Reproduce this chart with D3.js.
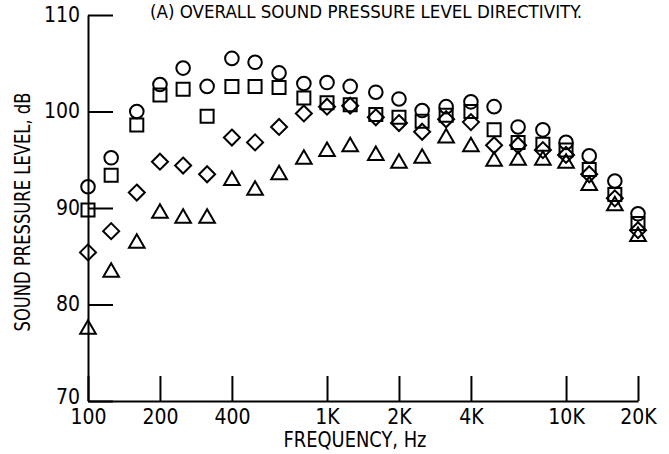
<!DOCTYPE html>
<html>
<head>
<meta charset="utf-8">
<script src="https://cdn.jsdelivr.net/npm/d3@7"></script>
<style>
  html, body { margin: 0; padding: 0; background: #fff; }
  svg text { font-family: "Liberation Sans Narrow", "DejaVu Sans Condensed", "Roboto Condensed", sans-serif; fill: #000; }
</style>
</head>
<body>
<svg id="chart" width="669" height="454"></svg>
<script>
// One-third-octave band centre frequencies, Hz
const bands = [100, 125, 160, 200, 250, 315, 400, 500, 630, 800, 1000, 1250,
  1600, 2000, 2500, 3150, 4000, 5000, 6300, 8000, 10000, 12500, 16000, 20000];

// Sound pressure level per band, dB, one array per measurement position
const circleSPL = [92.2, 95.2, 100.0, 102.8, 104.5, 102.6, 105.5, 105.1, 104.0, 102.9, 103.0, 102.6,
  102.0, 101.3, 100.1, 100.5, 101.0, 100.5, 98.4, 98.1, 96.8, 95.4, 92.8, 89.4];
const squareSPL = [89.8, 93.4, 98.6, 101.7, 102.3, 99.5, 102.6, 102.6, 102.5, 101.4, 100.9, 100.7,
  99.7, 99.4, 99.0, 99.6, 100.0, 98.1, 96.8, 96.6, 96.0, 94.0, 91.4, 88.4];
const diamondSPL = [85.4, 87.6, 91.6, 94.8, 94.4, 93.5, 97.3, 96.8, 98.4, 99.8, 100.5, 100.6,
  99.4, 98.8, 97.9, 99.2, 98.9, 96.5, 96.5, 96.0, 95.5, 93.5, 91.0, 87.7];
const triangleSPL = [77.6, 83.5, 86.5, 89.6, 89.1, 89.1, 93.0, 92.0, 93.6, 95.2, 96.0, 96.5,
  95.6, 94.8, 95.3, 97.4, 96.5, 95.0, 95.1, 95.1, 94.8, 92.5, 90.4, 87.2];

// Axis ticks
const xTicks = [100, 200, 400, 1000, 2000, 4000, 10000, 20000];
const xTickLabels = ["100", "200", "400", "1K", "2K", "4K", "10K", "20K"];
const yTicks = [70, 80, 90, 100, 110];

const titleText = "(A) OVERALL SOUND PRESSURE LEVEL DIRECTIVITY.";
const xTitle = "FREQUENCY, Hz";
const yTitle = "SOUND PRESSURE LEVEL, dB";

const svg = d3.select("#chart");

const x = d3.scaleLog().domain([100, 20000]).range([88, 638]);
const y = d3.scaleLinear().domain([70, 110]).range([401, 15]);

const axisStyle = g => {
  g.selectAll("path.domain").attr("stroke", "#000").attr("stroke-width", 2);
  g.selectAll(".tick line").attr("stroke", "#000").attr("stroke-width", 2);
  g.selectAll(".tick text").attr("font-size", 21).attr("fill", "#000");
};

// Frequency axis: ticks point up into the plot
svg.append("g")
  .attr("transform", `translate(0,${y(70)})`)
  .call(d3.axisBottom(x)
    .tickValues(xTicks)
    .tickFormat((d, i) => xTickLabels[i])
    .tickSize(-25)
    .tickSizeOuter(0)
    .tickPadding(7))
  .call(axisStyle)
  .call(g => g.selectAll(".tick text").attr("dy", "0.75em"));

// Level axis: ticks point right into the plot
svg.append("g")
  .attr("transform", `translate(${x(100)},0)`)
  .call(d3.axisLeft(y)
    .tickValues(yTicks)
    .tickFormat(d3.format("d"))
    .tickSize(-25)
    .tickSizeOuter(0)
    .tickPadding(8))
  .call(axisStyle)
  .call(g => g.selectAll(".tick text")
    .attr("dy", "0.3em")
    // the bottom label sits just above the corner, clear of the "100" below it
    .attr("y", d => (d === 70 ? -4 : 0)));

// Titles
svg.append("text")
  .attr("x", 366).attr("y", 18)
  .attr("text-anchor", "middle")
  .attr("font-size", 18)
  .attr("textLength", 432).attr("lengthAdjust", "spacingAndGlyphs")
  .text(titleText);

svg.append("text")
  .attr("x", 355).attr("y", 447)
  .attr("text-anchor", "middle")
  .attr("font-size", 21)
  .attr("textLength", 143).attr("lengthAdjust", "spacingAndGlyphs")
  .text(xTitle);

svg.append("text")
  .attr("transform", "translate(30,212) rotate(-90)")
  .attr("text-anchor", "middle")
  .attr("font-size", 21)
  .attr("textLength", 239).attr("lengthAdjust", "spacingAndGlyphs")
  .text(yTitle);

// Marker symbols
const symbolPaths = {
  circle: d3.symbol().type(d3.symbolCircle).size(Math.PI * 6.8 * 6.8)(),
  square: d3.symbol().type(d3.symbolSquare).size(13 * 13)(),
  diamond: "M0,-8L8,0L0,8L-8,0Z",
  triangle: "M0,-7.5L7.8,6L-7.8,6Z"
};

const series = [
  { name: "triangle", values: triangleSPL },
  { name: "diamond", values: diamondSPL },
  { name: "square", values: squareSPL },
  { name: "circle", values: circleSPL }
];

series.forEach(s => {
  svg.append("g")
    .attr("class", "series-" + s.name)
    .selectAll("path")
    .data(bands.map((f, i) => ({ f, v: s.values[i] })))
    .join("path")
    .attr("d", symbolPaths[s.name])
    .attr("transform", d => `translate(${x(d.f)},${y(d.v)})`)
    .attr("fill", "none")
    .attr("stroke", "#000")
    .attr("stroke-width", 2);
});
</script>
</body>
</html>
